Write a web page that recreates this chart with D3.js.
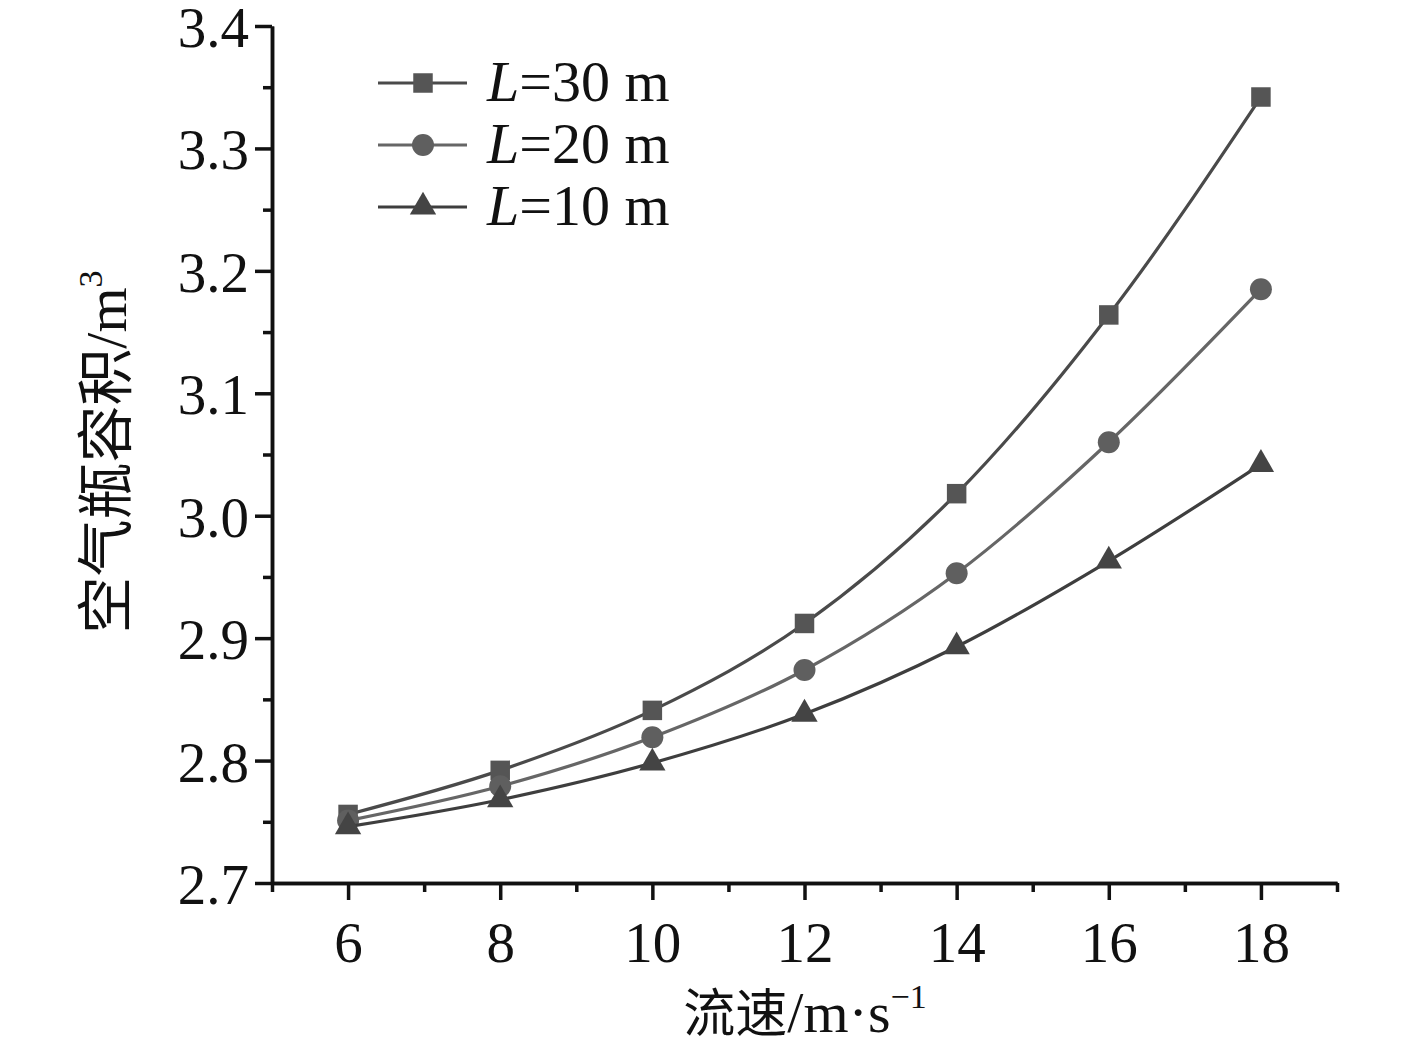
<!DOCTYPE html>
<html>
<head>
<meta charset="utf-8">
<script src="https://cdn.jsdelivr.net/npm/d3@7"></script>
<style>
  body { margin: 0; background: #fff; }
  svg { display: block; }
  text { font-family: "Liberation Serif", "Times New Roman", serif; fill: #111; }
  .cjk { font-family: "Noto Sans CJK SC", sans-serif; }
</style>
</head>
<body>
<div id="chart"></div>
<script>
// data
let speeds = [6, 8, 10, 12, 14, 16, 18];
let volL30 = [2.756, 2.792, 2.841, 2.912, 3.018, 3.164, 3.342];
let volL20 = [2.751, 2.779, 2.819, 2.874, 2.953, 3.060, 3.185];
let volL10 = [2.746, 2.768, 2.798, 2.838, 2.893, 2.963, 3.042];
let seriesNames = ["30", "20", "10"];
let xMajor = [6, 8, 10, 12, 14, 16, 18];
let xMinor = [5, 7, 9, 11, 13, 15, 17, 19];
let yMajor = [2.7, 2.8, 2.9, 3.0, 3.1, 3.2, 3.3, 3.4];
let yMinor = [2.75, 2.85, 2.95, 3.05, 3.15, 3.25, 3.35];

let width = 1417;
let height = 1051;
let plot = { left: 272, right: 1337, top: 26, bottom: 883 };

let svg = d3.select("#chart").append("svg")
    .attr("width", width)
    .attr("height", height);

let x = d3.scaleLinear().domain([5, 19]).range([plot.left, plot.right]);
let y = d3.scaleLinear().domain([2.7, 3.4]).range([plot.bottom, plot.top]);

let styles = [
    { vals: volL30, line: "#4a4a4a", fill: "#555555", sym: d3.symbolSquare, size: 380 },
    { vals: volL20, line: "#666666", fill: "#5f5f5f", sym: d3.symbolCircle, size: 380 },
    { vals: volL10, line: "#3e3e3e", fill: "#444444", sym: d3.symbolTriangle, size: 300 }
];

// lines and markers
let line = d3.line()
    .x(d => x(d[0]))
    .y(d => y(d[1]))
    .curve(d3.curveMonotoneX);

styles.forEach(s => {
    let pts = speeds.map((v, i) => [v, s.vals[i]]);
    svg.append("path")
        .datum(pts)
        .attr("d", line)
        .attr("fill", "none")
        .attr("stroke", s.line)
        .attr("stroke-width", 3.2);
    svg.append("g").selectAll("path")
        .data(pts)
        .enter().append("path")
        .attr("transform", d => `translate(${x(d[0])},${y(d[1])})`)
        .attr("d", d3.symbol().type(s.sym).size(s.size))
        .attr("fill", s.fill);
});

// axes
function styleAxis (g) {
    g.select(".domain").attr("stroke", "#111").attr("stroke-width", 3.5);
    g.selectAll(".tick line").attr("stroke", "#111").attr("stroke-width", 3.5);
    g.selectAll(".tick text")
        .attr("font-size", "57px")
        .attr("fill", "#111");
}

let gx = svg.append("g").attr("transform", `translate(0,${plot.bottom})`);
gx.call(d3.axisBottom(x).tickValues(xMajor).tickSize(17).tickSizeOuter(0).tickPadding(22).tickFormat(d3.format("d")));
styleAxis(gx);
let gxMinor = svg.append("g").attr("transform", `translate(0,${plot.bottom})`);
gxMinor.call(d3.axisBottom(x).tickValues(xMinor).tickSize(9).tickSizeOuter(0).tickFormat(""));
styleAxis(gxMinor);

let gy = svg.append("g").attr("transform", `translate(${plot.left},0)`);
gy.call(d3.axisLeft(y).tickValues(yMajor).tickSize(17).tickSizeOuter(0).tickPadding(6).tickFormat(d3.format(".1f")));
styleAxis(gy);
gy.selectAll(".tick text").attr("dy", "0.36em");
let gyMinor = svg.append("g").attr("transform", `translate(${plot.left},0)`);
gyMinor.call(d3.axisLeft(y).tickValues(yMinor).tickSize(9).tickSizeOuter(0).tickFormat(""));
styleAxis(gyMinor);

// axis titles
let xt = svg.append("text")
    .attr("x", 805)
    .attr("y", 1032)
    .attr("text-anchor", "middle")
    .attr("font-size", "58px");
xt.append("tspan").attr("class", "cjk").attr("font-size", "52px").text("流速");
xt.append("tspan").text("/m·s");
xt.append("tspan").attr("font-size", "34px").attr("dy", "-24").text("−1");

let yt = svg.append("text")
    .attr("transform", "translate(126,452) rotate(-90)")
    .attr("text-anchor", "middle")
    .attr("font-size", "58px");
yt.append("tspan").attr("class", "cjk").attr("font-size", "57px").text("空气瓶容积");
yt.append("tspan").text("/m");
yt.append("tspan").attr("font-size", "34px").attr("dy", "-24").text("3");

// legend
let legend = svg.append("g");
let legendY = [83, 145, 207];
styles.forEach((s, i) => {
    let row = legend.append("g").attr("transform", `translate(0,${legendY[i]})`);
    row.append("line")
        .attr("x1", 378).attr("x2", 467)
        .attr("stroke", s.line).attr("stroke-width", 3.2);
    row.append("path")
        .attr("transform", "translate(423,0)")
        .attr("d", d3.symbol().type(s.sym).size(s.size))
        .attr("fill", s.fill);
    let t = row.append("text")
        .attr("x", 487)
        .attr("y", 18)
        .attr("font-size", "58px");
    t.append("tspan").attr("font-style", "italic").text("L");
    t.append("tspan").text("=" + seriesNames[i] + " m");
});
</script>
</body>
</html>
